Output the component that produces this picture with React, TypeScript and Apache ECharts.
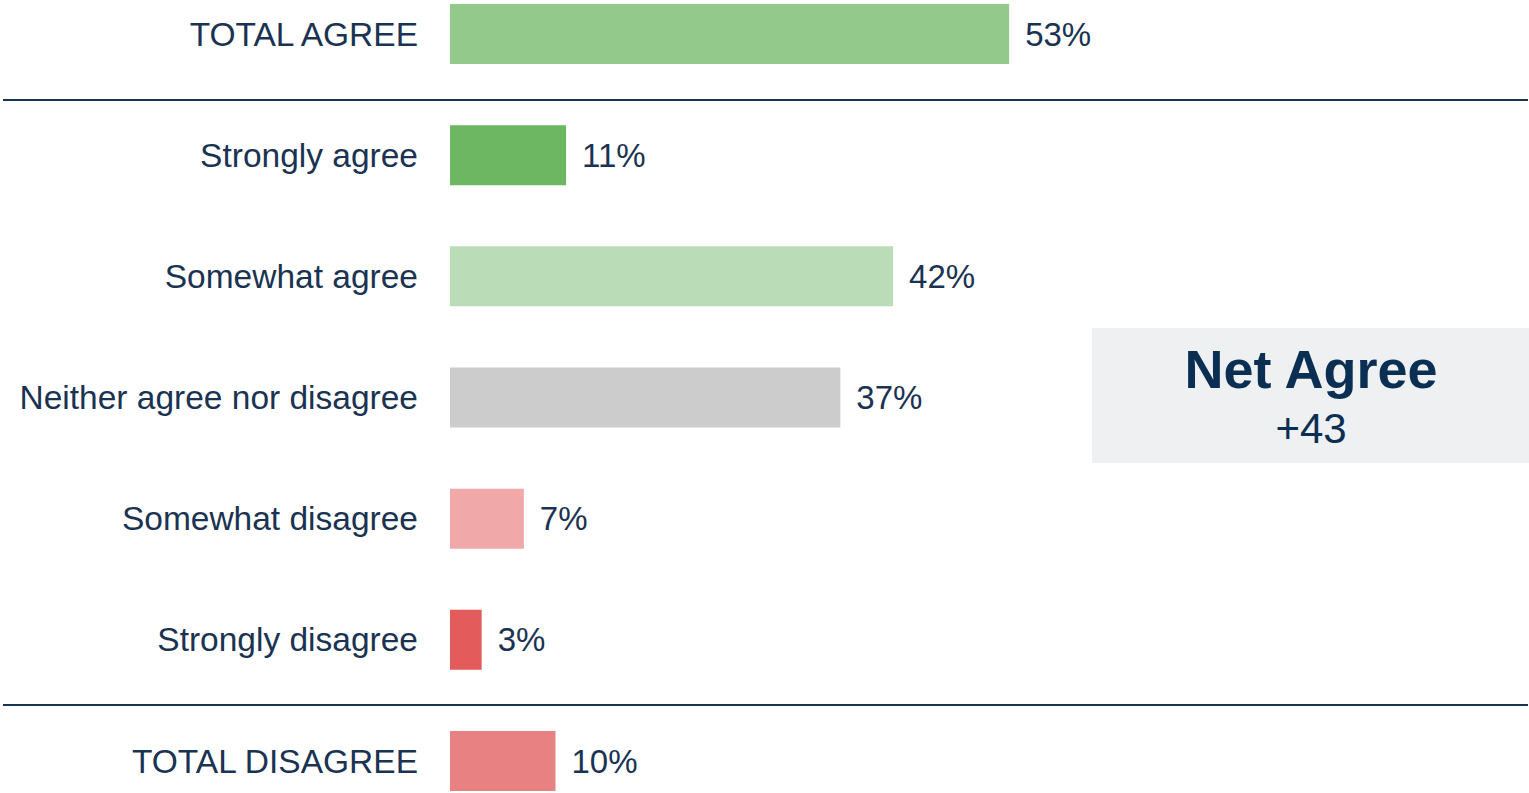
import React, { useEffect, useRef } from "react";
import * as echarts from "echarts";

const categories = [
  "TOTAL AGREE",
  "Strongly agree",
  "Somewhat agree",
  "Neither agree nor disagree",
  "Somewhat disagree",
  "Strongly disagree",
  "TOTAL DISAGREE",
];
const values = [53, 11, 42, 37, 7, 3, 10];
const barColors = ["#93ca8b", "#6db662", "#badcb7", "#cccccc", "#f0a8a8", "#e35b5b", "#e88282"];
const netLabel = "Net Agree";
const netValue = "+43";

const NAVY = "#1b3352";
const FONT = "'Liberation Sans', Arial, Helvetica, sans-serif";

export default function App() {
  const ref = useRef<HTMLDivElement>(null);
  useEffect(() => {
    if (!ref.current) return;
    const chart = echarts.init(ref.current, undefined, { renderer: "svg" });
    chart.setOption({
      animation: false,
      grid: { left: 450, right: 24, top: 34, bottom: 32, containLabel: false },
      xAxis: {
        type: "value",
        min: 0,
        max: 100,
        show: false,
      },
      yAxis: {
        type: "category",
        data: categories,
        inverse: true,
        boundaryGap: false,
        axisLine: { show: false },
        axisTick: { show: false },
        splitLine: { show: false },
        axisLabel: {
          margin: 32,
          color: NAVY,
          fontSize: 33.5,
          fontFamily: FONT,
        },
      },
      series: [
        {
          type: "bar",
          barWidth: 60,
          data: values.map((v, i) => ({ value: v, itemStyle: { color: barColors[i] } })),
          label: {
            show: true,
            position: "right",
            distance: 16,
            formatter: "{c}%",
            color: NAVY,
            fontSize: 33,
            fontFamily: FONT,
          },
        },
      ],
      graphic: [
        {
          type: "line",
          shape: { x1: 3, y1: 100, x2: 1528, y2: 100 },
          style: { stroke: NAVY, lineWidth: 2 },
        },
        {
          type: "line",
          shape: { x1: 3, y1: 705, x2: 1528, y2: 705 },
          style: { stroke: NAVY, lineWidth: 2 },
        },
        {
          type: "rect",
          shape: { x: 1092, y: 328, width: 437, height: 135 },
          style: { fill: "#eff0f2" },
        },
        {
          type: "text",
          x: 1311,
          y: 369,
          style: {
            text: netLabel,
            fill: "#0a2f52",
            font: `bold 54px ${FONT}`,
            textAlign: "center",
            textVerticalAlign: "middle",
            verticalAlign: "middle",
          },
        },
        {
          type: "text",
          x: 1311,
          y: 428,
          style: {
            text: netValue,
            fill: "#0a2f52",
            font: `42px ${FONT}`,
            textAlign: "center",
            textVerticalAlign: "middle",
            verticalAlign: "middle",
          },
        },
      ],
    });
    return () => chart.dispose();
  }, []);
  return (
    <div
      ref={ref}
      style={{ position: "fixed", left: 0, top: 0, width: 1529, height: 793, background: "#fff" }}
    />
  );
}
